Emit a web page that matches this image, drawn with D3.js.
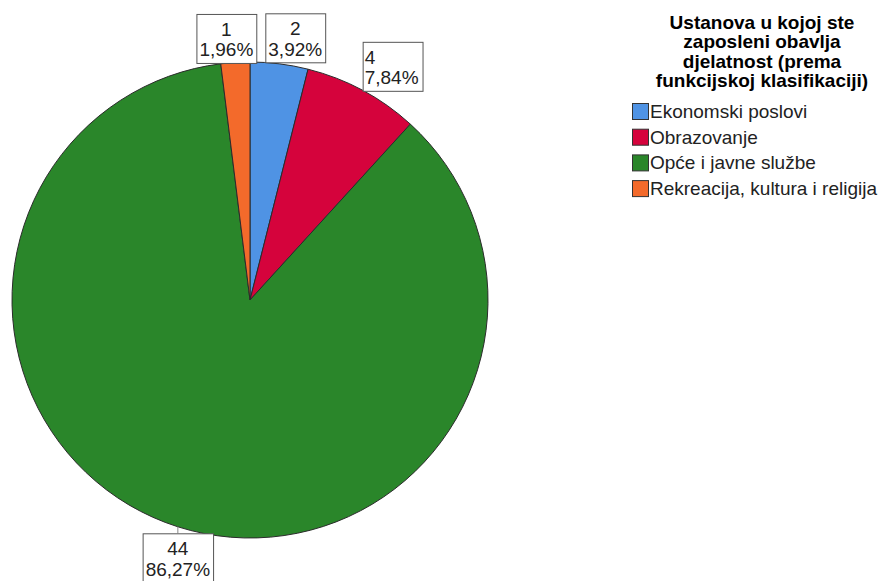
<!DOCTYPE html>
<html>
<head>
<meta charset="utf-8">
<script src="https://cdn.jsdelivr.net/npm/d3@7"></script>
<style>
body { margin: 0; background: #fff; }
text { font-family: "Liberation Sans", Arial, sans-serif; }
</style>
</head>
<body>
<div id="chart"></div>
<script>
// data
var categories = ["Ekonomski poslovi", "Obrazovanje", "Opće i javne službe", "Rekreacija, kultura i religija"];
var counts = [2, 4, 44, 1];
var colors = ["#4f93e4", "#d5033c", "#2a862a", "#f36a2b"];
var titleLines = ["Ustanova u kojoj ste", "zaposleni obavlja", "djelatnost (prema", "funkcijskoj klasifikaciji)"];

// label box placement relative to slice edge: dx, dy, align, leader
var labelLayout = [
    [16, -26, "middle", false],
    [30, -24, "start", false],
    [0, 31, "middle", true],
    [-9, -24, "middle", false]
];

var width = 879, height = 581;
var cx = 250, cy = 300, r = 238;

var hr = d3.formatLocale({decimal: ",", thousands: ".", grouping: [3], currency: ["", ""]});
var pct = hr.format(".2%");
var total = d3.sum(counts);

var svg = d3.select("#chart").append("svg")
    .attr("width", width)
    .attr("height", height);

var color = d3.scaleOrdinal().domain(categories).range(colors);

var pie = d3.pie().sort(null).value(function(d) { return d; });
var arcs = pie(counts);
var arc = d3.arc().innerRadius(0).outerRadius(r);
var edge = d3.arc().innerRadius(r).outerRadius(r);

var g = svg.append("g").attr("transform", "translate(" + cx + "," + cy + ")");

g.selectAll("path.slice")
    .data(arcs)
    .enter()
    .append("path")
    .attr("class", "slice")
    .attr("d", arc)
    .attr("fill", function(d, i) { return color(categories[i]); })
    .attr("stroke", "#2b2b2b")
    .attr("stroke-width", 1)
    .attr("stroke-linejoin", "round");

// labels
var lineH = 20.5, pad = 3, boxH = 49;
arcs.forEach(function(d, i) {
    var p = edge.centroid(d);
    var lay = labelLayout[i];
    var bx = p[0] + lay[0], by = p[1] + lay[1];
    var lbl = g.append("g");
    var t1 = lbl.append("text").text(counts[i]);
    var t2 = lbl.append("text").text(pct(counts[i] / total));
    lbl.selectAll("text")
        .attr("font-size", "19px")
        .attr("fill", "#222");
    var w = Math.max(t1.node().getComputedTextLength(), t2.node().getComputedTextLength()) + pad * 2;
    var left = bx - w / 2, top = by - boxH / 2;
    if (lay[3]) {
        lbl.insert("line", "text")
            .attr("x1", p[0]).attr("y1", p[1])
            .attr("x2", bx).attr("y2", top)
            .attr("stroke", "#888")
            .attr("stroke-width", 1);
    }
    lbl.insert("rect", "text")
        .attr("x", left + 0.5).attr("y", top + 0.5)
        .attr("width", w).attr("height", boxH)
        .attr("fill", "#fff")
        .attr("stroke", "#555")
        .attr("stroke-width", 1);
    var tx = lay[2] == "start" ? left + 2 : bx;
    t1.attr("x", tx).attr("y", top + 22).attr("text-anchor", lay[2]);
    t2.attr("x", tx).attr("y", top + 22 + lineH).attr("text-anchor", lay[2]);
});

// legend
var legend = svg.append("g");
legend.selectAll("text.title")
    .data(titleLines)
    .enter()
    .append("text")
    .attr("class", "title")
    .attr("x", 762)
    .attr("y", function(d, i) { return 29 + i * 19.4; })
    .attr("text-anchor", "middle")
    .attr("font-size", "19px")
    .attr("font-weight", "bold")
    .attr("fill", "#000")
    .text(function(d) { return d; });

var items = legend.selectAll("g.item")
    .data(categories)
    .enter()
    .append("g")
    .attr("class", "item")
    .attr("transform", function(d, i) { return "translate(632," + (118 + i * 25.7) + ")"; });

items.append("rect")
    .attr("x", 0.5).attr("y", -14.5)
    .attr("width", 16).attr("height", 16)
    .attr("fill", function(d) { return color(d); })
    .attr("stroke", "#333")
    .attr("stroke-width", 1);

items.append("text")
    .attr("x", 18)
    .attr("y", 0)
    .attr("font-size", "19px")
    .attr("fill", "#222")
    .text(function(d) { return d; });
</script>
</body>
</html>
